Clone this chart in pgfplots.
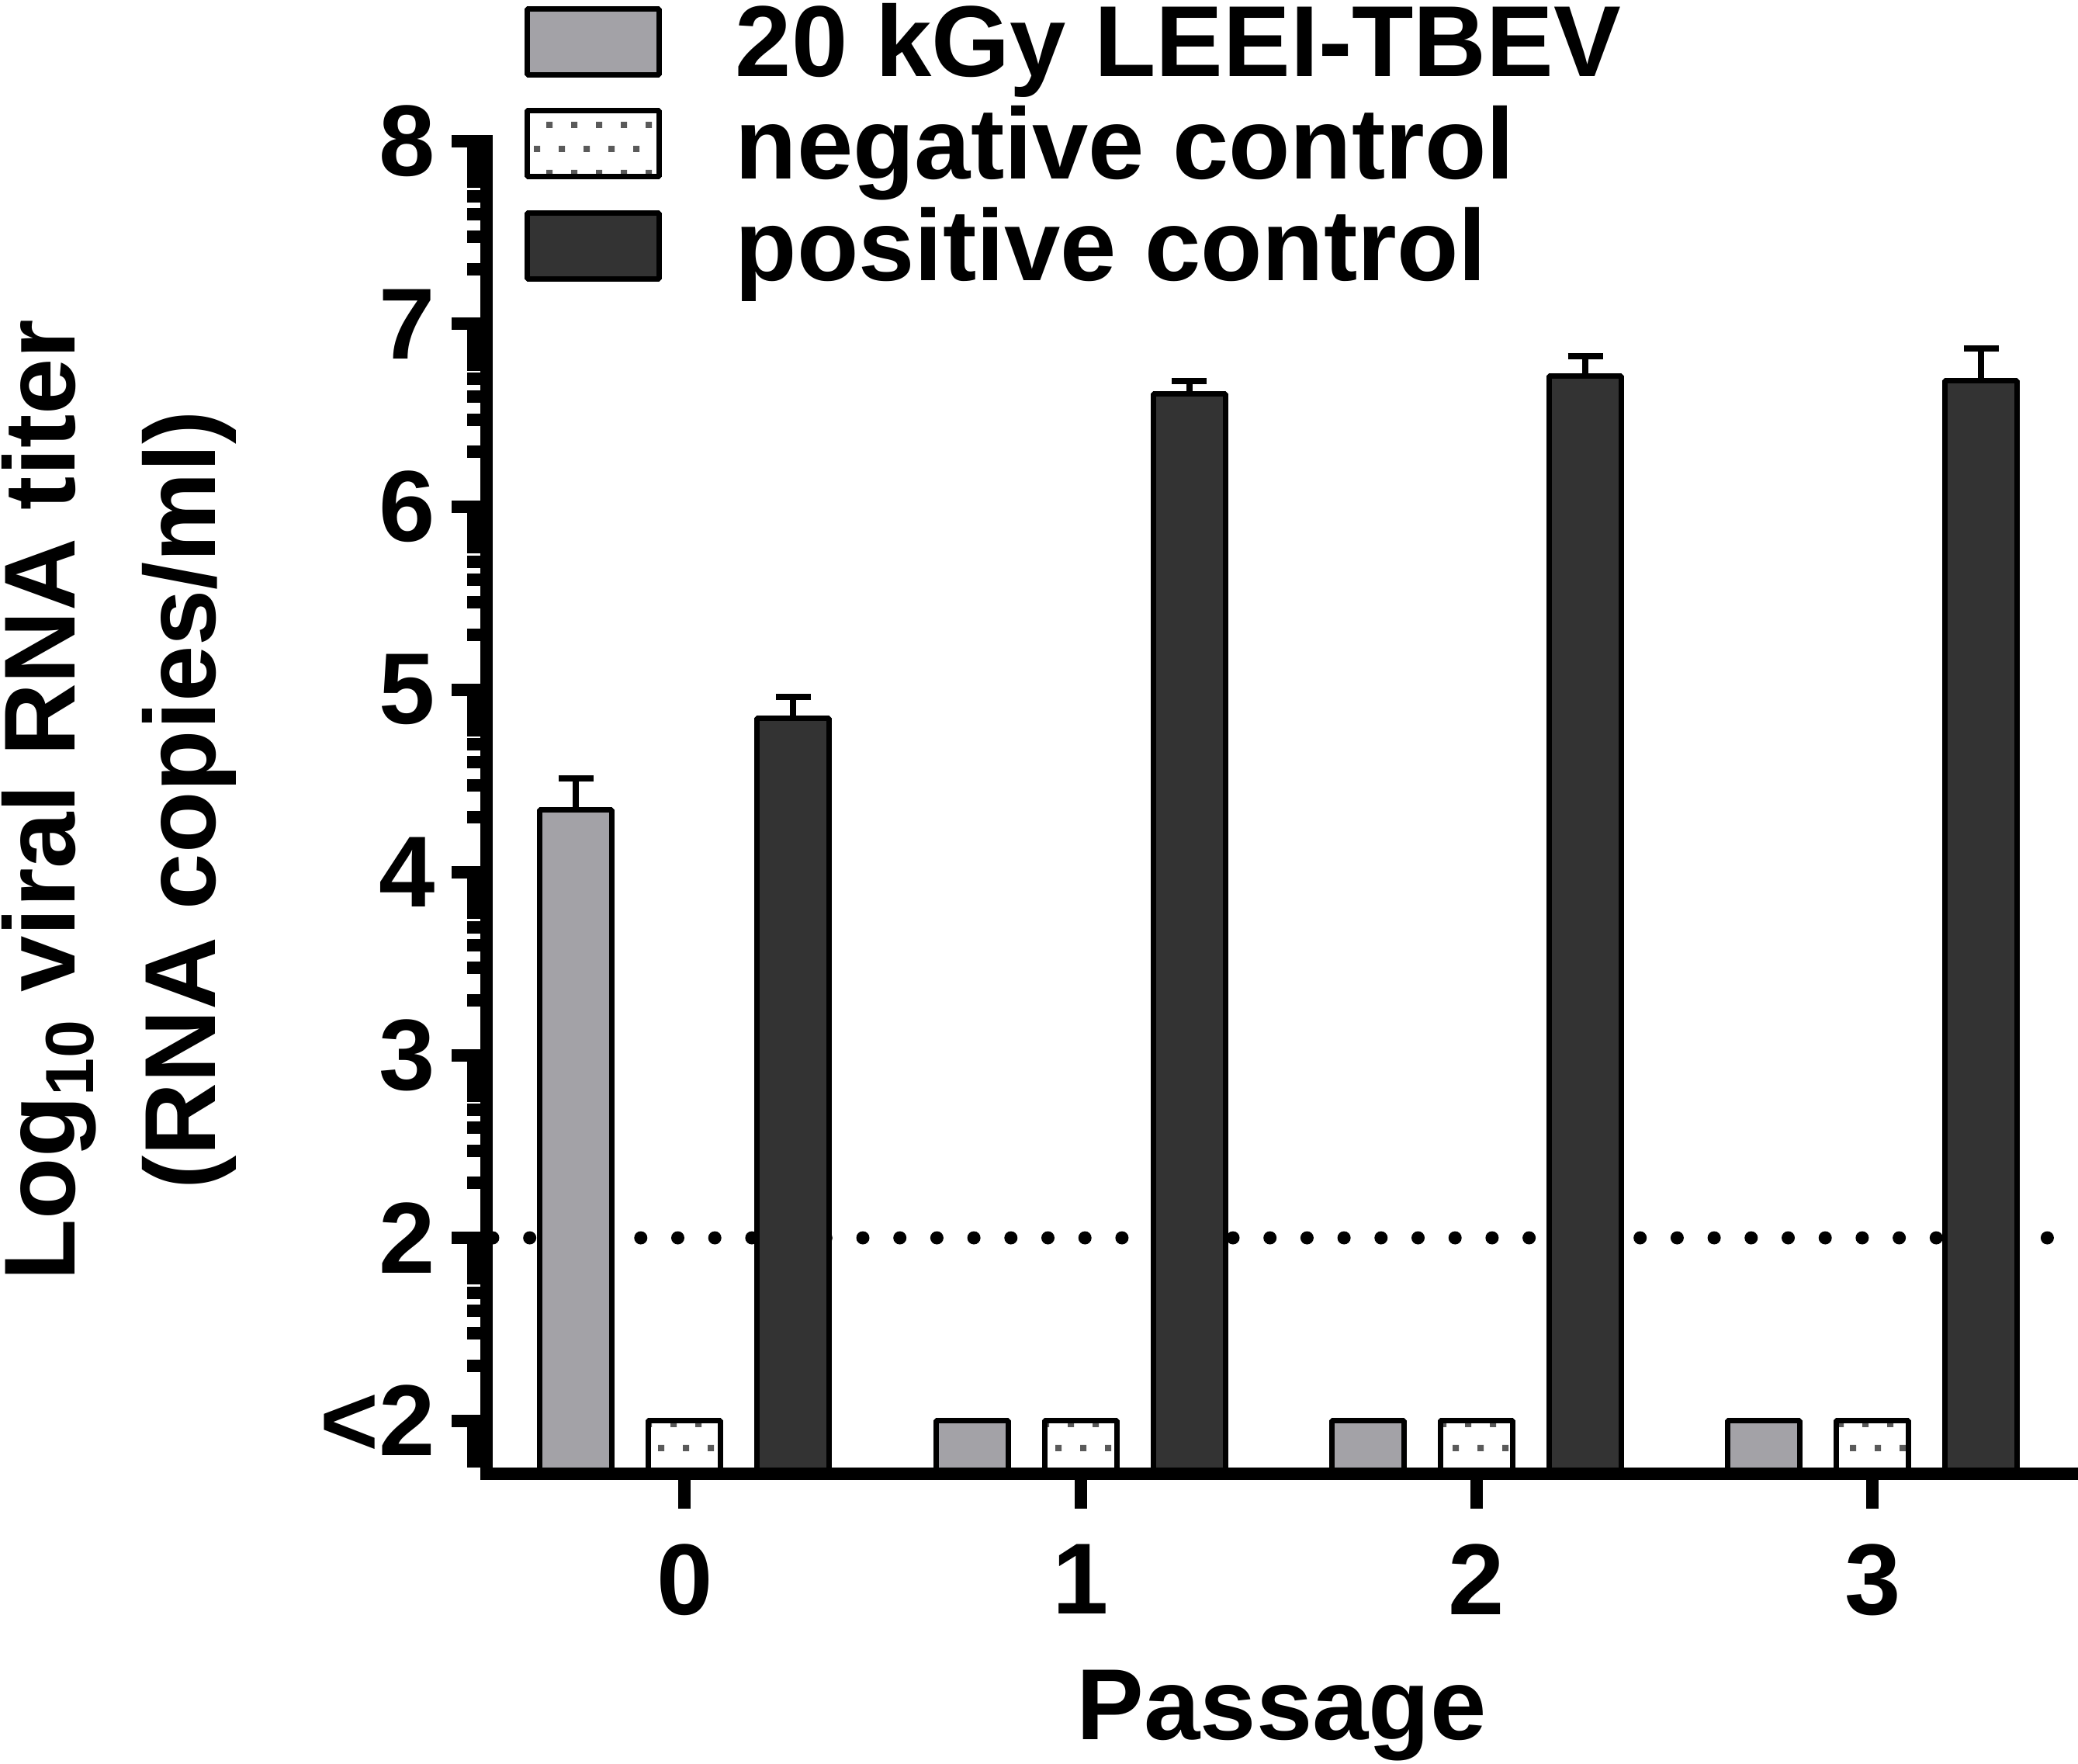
\documentclass[border=0pt]{standalone}
\usepackage{fontspec}
\setmainfont{Liberation Sans}
\usepackage{pgfplots}
\pgfplotsset{compat=1.18}
\usetikzlibrary{patterns}
\definecolor{lgray}{RGB}{163,162,167}
\definecolor{dgray}{RGB}{51,51,51}
\definecolor{dotgray}{RGB}{90,90,90}
\pgfdeclarepatternformonly{stagdots}{\pgfqpoint{-0.1pt}{-0.1pt}}{\pgfqpoint{3.3pt}{6.3pt}}{\pgfqpoint{3.2pt}{6.2pt}}{%
  \pgfpathrectangle{\pgfqpoint{0pt}{0pt}}{\pgfqpoint{0.8pt}{0.8pt}}%
  \pgfpathrectangle{\pgfqpoint{1.6pt}{3.1pt}}{\pgfqpoint{0.8pt}{0.8pt}}%
  \pgfusepath{fill}}
\newcommand{\ff}{\fontsize{13}{18.1}\selectfont\bfseries}
\pgfplotsset{
  errstyle/.style={forget plot, draw=none, mark=none,
    error bars/.cd, y dir=plus, y explicit,
    error bar style={draw=black, line width=0.8pt, solid},
    error mark options={draw=black, rotate=90, mark size=2.25pt, line width=0.8pt, solid}},
}
\begin{document}
\begin{tikzpicture}
\begin{axis}[
  x=51.03pt, y=23.55pt,
  xmin=-0.5, xmax=3.5146, ymin=0.711, ymax=8,
  enlargelimits=false,
  axis lines=left,
  axis line style={-, line width=1.6pt, line cap=rect},
  axis on top,
  clip=true,
  tick align=outside,
  major tick length=4.5pt,
  minor tick length=2.5pt,
  tick style={line width=1.6pt, black},
  xtick={0,1,2,3},
  xticklabels={0,1,2,3},
  ytick={1,2,3,4,5,6,7,8},
  yticklabels={\textless2,2,3,4,5,6,7,8},
  minor ytick={0.77815,0.84510,0.90309,0.95424,
    1.30103,1.47712,1.60206,1.69897,1.77815,1.84510,1.90309,1.95424,
    2.30103,2.47712,2.60206,2.69897,2.77815,2.84510,2.90309,2.95424,
    3.30103,3.47712,3.60206,3.69897,3.77815,3.84510,3.90309,3.95424,
    4.30103,4.47712,4.60206,4.69897,4.77815,4.84510,4.90309,4.95424,
    5.30103,5.47712,5.60206,5.69897,5.77815,5.84510,5.90309,5.95424,
    6.30103,6.47712,6.60206,6.69897,6.77815,6.84510,6.90309,6.95424,
    7.30103,7.47712,7.60206,7.69897,7.77815,7.84510,7.90309,7.95424},
  tick label style={font=\ff, inner sep=0pt},
  yticklabel style={xshift=-2.0pt},
  xticklabel style={yshift=-4.4pt},
  xlabel={Passage},
  xlabel style={font=\ff, inner sep=0pt, at={([yshift=-34.34pt]axis description cs:0.5,0)}, anchor=base},
  ylabel={Log\raisebox{-2.4pt}{\fontsize{8.8}{10}\selectfont 10} viral RNA titer\\(RNA copies/ml)},
  ylabel style={font=\ff, inner sep=0pt, align=center, at={([xshift=-32.1pt,yshift=0.93pt]axis description cs:0,0.5)}, anchor=south},
  legend image code/.code={\draw[#1] (0pt,-3.05pt) rectangle (17pt,5.45pt);},
  legend cell align=left,
  legend style={at={([xshift=4.9pt,yshift=17.7pt]axis description cs:0,1)}, anchor=north west,
    draw=none, fill=none, inner sep=0pt, outer sep=0pt,
    row sep=0.95pt, column sep=9.45pt,
    nodes={inner sep=0pt, text height=9.4pt, text depth=2.8pt, font=\ff}},
]
% detection limit
\addplot[black, line width=1.7pt, line cap=round, dash pattern=on 0pt off 4.77pt, forget plot]
  coordinates {(-0.485,2) (3.454,2)};
% 20 kGy LEEI-TBEV
\addplot[ybar, bar width=9.3pt, bar shift=-14.0pt, fill=lgray, draw=black, line width=0.7pt, line join=bevel]
  coordinates {(0,4.343) (1,1) (2,1) (3,1)};
\addlegendentry{20 kGy LEEI-TBEV}
\addplot[errstyle] coordinates {(-0.27435,4.343) +- (0,0.170)};
% negative control
\addplot[ybar, bar width=9.3pt, bar shift=0pt, preaction={fill=white}, pattern=stagdots, pattern color=dotgray,
  draw=black, line width=0.7pt, line join=bevel]
  coordinates {(0,1) (1,1) (2,1) (3,1)};
\addlegendentry{negative control}
% positive control
\addplot[ybar, bar width=9.3pt, bar shift=14.0pt, fill=dgray, draw=black, line width=0.7pt, line join=bevel]
  coordinates {(0,4.845) (1,6.618) (2,6.715) (3,6.688)};
\addlegendentry{positive control}
\addplot[errstyle] coordinates {(0.27435,4.845) +- (0,0.113) (1.27435,6.618) +- (0,0.070) (2.27435,6.715) +- (0,0.108) (3.27435,6.688) +- (0,0.178)};
\end{axis}
\pgfresetboundingbox
\path[use as bounding box] ([xshift=-62.735pt,yshift=-37.44pt]current axis.south west) rectangle ([xshift=0.2pt,yshift=18.2pt]current axis.north east);
\end{tikzpicture}
\end{document}
